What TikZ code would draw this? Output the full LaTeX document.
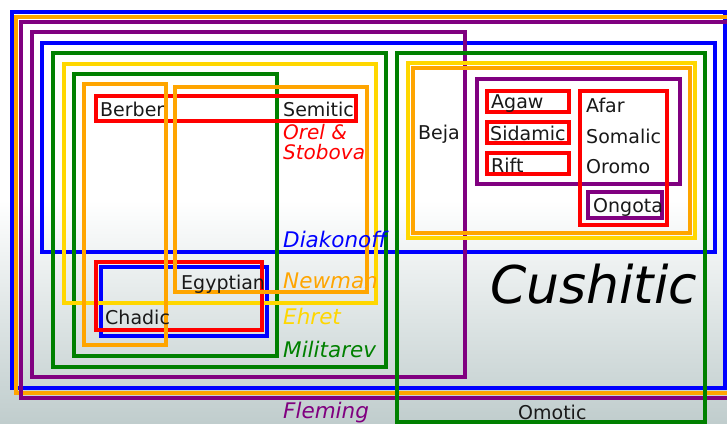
\documentclass[tikz,border=0pt]{standalone}
\usepackage{fontspec}
\setmainfont{DejaVu Sans}[ItalicFont={DejaVu Sans Oblique},BoldFont={DejaVu Sans Bold},BoldItalicFont={DejaVu Sans Bold Oblique}]
\definecolor{cblue}{RGB}{0,0,255}
\definecolor{corange}{RGB}{255,165,0}
\definecolor{cpurple}{RGB}{128,0,128}
\definecolor{cgreen}{RGB}{0,128,0}
\definecolor{cyellow}{RGB}{255,215,0}
\definecolor{cred}{RGB}{255,0,0}
\definecolor{bgbot}{RGB}{192,205,205}
\definecolor{txt}{RGB}{25,25,25}
\begin{document}
\begin{tikzpicture}[x=1pt,y=-1pt,
  grp/.style={line width=4.5pt},
  lang/.style={font=\fontsize{19}{21}\selectfont, text=txt, anchor=base west, inner sep=0pt},
  auth/.style={font=\fontsize{21.5}{23}\selectfont\itshape, anchor=base west, inner sep=0pt},
  authsm/.style={font=\fontsize{20}{22}\selectfont\itshape, anchor=base west, inner sep=0pt}]
\useasboundingbox (0,0) rectangle (727,423);
\clip (0,0) rectangle (727,423);
\fill[white] (0,0) rectangle (727,423);
\shade[top color=white, bottom color=bgbot] (0,200) rectangle (727,423);
% outer frames
\draw[grp, cblue] (12,12) rectangle (725,388);
\draw[grp, corange] (16,17) rectangle (745,393);
\draw[grp, cpurple] (21,22) rectangle (745,398);
% Diakonoff
\draw[grp, cblue] (42,43) rectangle (715,252);
\draw[grp, cblue] (101,267) rectangle (267,336);
% Fleming left
\draw[grp, cpurple] (32,32) rectangle (465,377);
% Militarev
\draw[grp, cgreen] (53,53) rectangle (386,367);
\draw[grp, cgreen] (74,74) rectangle (277,356);
\draw[grp, cgreen] (397,53) rectangle (705,422);
% Ehret
\draw[grp, cyellow] (64,64) rectangle (376,303);
\draw[grp, cyellow] (408,63) rectangle (695,238);
% Orel & Stobova
\draw[grp, cred] (96,96) rectangle (356,121);
\draw[grp, cred] (96,262) rectangle (262,330);
% Newman
\draw[grp, corange] (84,84) rectangle (166,345);
\draw[grp, corange] (175,87) rectangle (367,292);
\draw[grp, corange] (413,68) rectangle (690,233);
% Fleming Cushitic
\draw[grp, cpurple] (477,79) rectangle (680,184);
\draw[grp, cred] (487,91) rectangle (569,112);
\draw[grp, cred] (487,122) rectangle (569,143);
\draw[grp, cred] (487,153) rectangle (569,174);
\draw[grp, cred] (580,91) rectangle (667,225);
\draw[grp, cpurple] (588,192) rectangle (662,218);
% language labels
\node[lang] (berber) at (100,116) {Berber};
\node[lang] (semitic) at (283,116) {Semitic};
\node[lang] (beja) at (418,139) {Beja};
\node[lang] (agaw) at (491,108) {Agaw};
\node[lang] (sidamic) at (490,140) {Sidamic};
\node[lang] (rift) at (491,172) {Rift};
\node[lang] (afar) at (586,112) {Afar};
\node[lang] (somalic) at (586,143) {Somalic};
\node[lang] (oromo) at (586,173) {Oromo};
\node[lang] (ongota) at (593,212) {Ongota};
\node[lang] (egyptian) at (181,289) {Egyptian};
\node[lang] (chadic) at (105,324) {Chadic};
\node[lang] (omotic) at (518,419) {Omotic};
\node[lang, font=\fontsize{52}{56}\selectfont\itshape, text=black] (cushitic) at (490,303) {Cushitic};
% author labels
\node[authsm, text=cred] (orel) at (283,139) {Orel \&};
\node[authsm, text=cred] (stobova) at (283,159) {Stobova};
\node[auth, text=cblue] (diakonoff) at (283,247) {Diakonoff};
\node[auth, text=corange] (newman) at (283,288) {Newman};
\node[auth, text=cyellow] (ehret) at (283,324) {Ehret};
\node[auth, text=cgreen] (militarev) at (283,357) {Militarev};
\node[auth, text=cpurple] (fleming) at (283,418) {Fleming};
\end{tikzpicture}
\end{document}
